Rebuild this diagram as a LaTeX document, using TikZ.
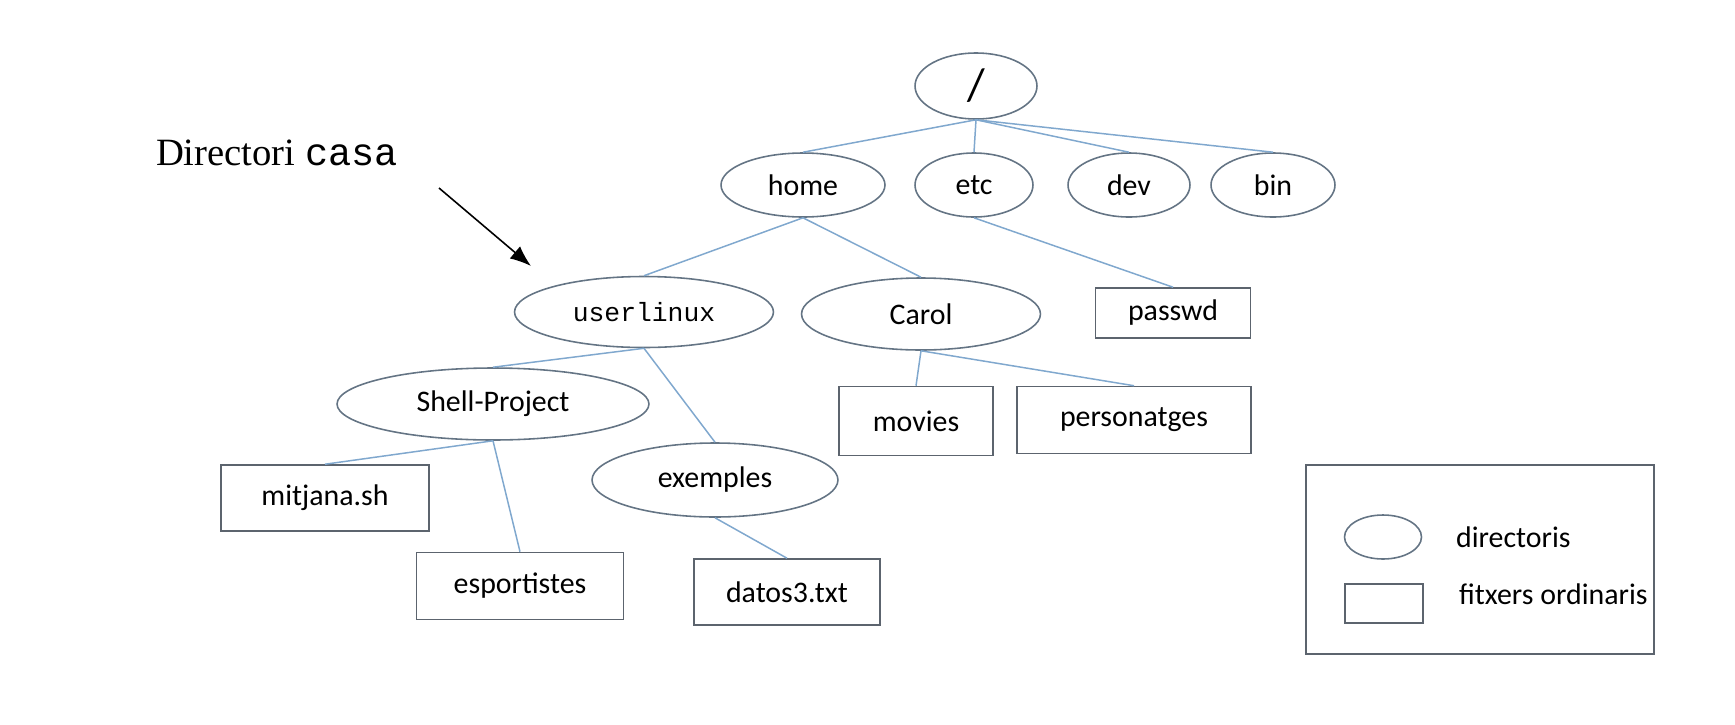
\documentclass[tikz,border=0pt]{standalone}
\usepackage{fontspec}
\setmainfont{Carlito}
\setmonofont{Liberation Mono}
\newfontfamily\serifrm{Liberation Serif}
\usetikzlibrary{arrows.meta, positioning, shapes.geometric}
\definecolor{linkblue}{RGB}{128,168,206}
\definecolor{edgegray}{RGB}{100,116,132}
\definecolor{boxgray}{RGB}{92,100,110}
\tikzset{
  dir/.style={draw=edgegray, ellipse, line width=0.9pt, inner sep=0pt, minimum height=1.28cm,
    font=\fontsize{17}{20}\selectfont},
  fitx/.style={draw=boxgray, rectangle, line width=0.9pt, inner sep=0pt, minimum height=1.32cm,
    font=\fontsize{17}{20}\selectfont},
  link/.style={draw=linkblue, line width=0.85pt},
  arr/.style={-{Latex[length=4.2mm, width=3.2mm]}, line width=0.9pt},
  legtext/.style={inner sep=0pt, font=\fontsize{17}{20}\selectfont},
}

\begin{document}
\begin{tikzpicture}[x=0.02cm, y=-0.02cm]
    \useasboundingbox (0,0) rectangle (1735,724);
    % tree of directories
    \node[dir, minimum width=2.44cm, minimum height=1.32cm, font=\fontsize{26}{30}\selectfont] (root) at (976,86) {/};
    \node[dir, minimum width=3.28cm] (home) at (803,185) {home};
    \node[dir, minimum width=2.36cm] (etc) at (974,185) {etc};
    \node[dir, minimum width=2.44cm] (dev) at (1129,185) {dev};
    \node[dir, minimum width=2.48cm] (bin) at (1273,185) {bin};
    \node[dir, minimum width=5.18cm, minimum height=1.42cm, font=\ttfamily\fontsize{15}{18}\selectfont] (user) at (644,312) {userlinux};
    \node[dir, minimum width=4.78cm, minimum height=1.44cm] (carol) at (921,314) {Carol};
    \node[fitx, minimum width=3.1cm, minimum height=1.0cm] (passwd) at (1173,313) {passwd};
    \node[dir, minimum width=6.24cm, minimum height=1.44cm] (shell) at (493,404) {Shell-Project};
    \node[fitx, minimum width=3.08cm, minimum height=1.38cm] (movies) at (916,421) {movies};
    \node[fitx, minimum width=4.68cm, minimum height=1.34cm] (perso) at (1134,420) {personatges};
    \node[dir, minimum width=4.92cm, minimum height=1.48cm] (exemples) at (715,480) {exemples};
    \node[fitx, minimum width=4.16cm] (mitjana) at (325,498) {mitjana.sh};
    \node[fitx, minimum width=4.14cm, minimum height=1.34cm] (esport) at (520,586) {esportistes};
    \node[fitx, minimum width=3.72cm] (datos) at (787,592) {datos3.txt};

    \foreach \kid in {home, etc, dev, bin}
      \draw[link] (root.south) -- (\kid.north);
    \draw[link] (home.south) -- (user.north);
    \draw[link] (home.south) -- (carol.north);
    \draw[link] (etc.south) -- (passwd.north);
    \draw[link] (user.south) -- (shell.north);
    \draw[link] (user.south) -- (exemples.north);
    \draw[link] (carol.south) -- (movies.north);
    \draw[link] (carol.south) -- (perso.north);
    \draw[link] (shell.south) -- (mitjana.north);
    \draw[link] (shell.south) -- (esport.north);
    \draw[link] (exemples.south) -- (datos.north);

    % home directory label
    \node[inner sep=0pt, font=\fontsize{22}{26}\selectfont] (casa) at (277,153) {\serifrm Directori \ttfamily casa};
    \coordinate (arrfrom) at (439,188);
    \coordinate (arrto) at (531,266);
    \draw[arr] (arrfrom) -- (arrto);

    % legend
    \node[draw=boxgray, line width=0.9pt, minimum width=6.96cm, minimum height=3.78cm] (legend) at (1480,559.5) {};
    \node[draw=edgegray, ellipse, line width=0.9pt, minimum width=1.54cm, minimum height=0.88cm] (legdir) at (1383,537) {};
    \node[draw=boxgray, line width=0.9pt, minimum width=1.56cm, minimum height=0.78cm] (legfile) at (1384,603.5) {};
    \node[legtext, right=0.67cm of legdir] {directoris};
    \node[legtext, right=0.7cm of legfile, yshift=0.18cm] {fitxers ordinaris};
\end{tikzpicture}
\end{document}
